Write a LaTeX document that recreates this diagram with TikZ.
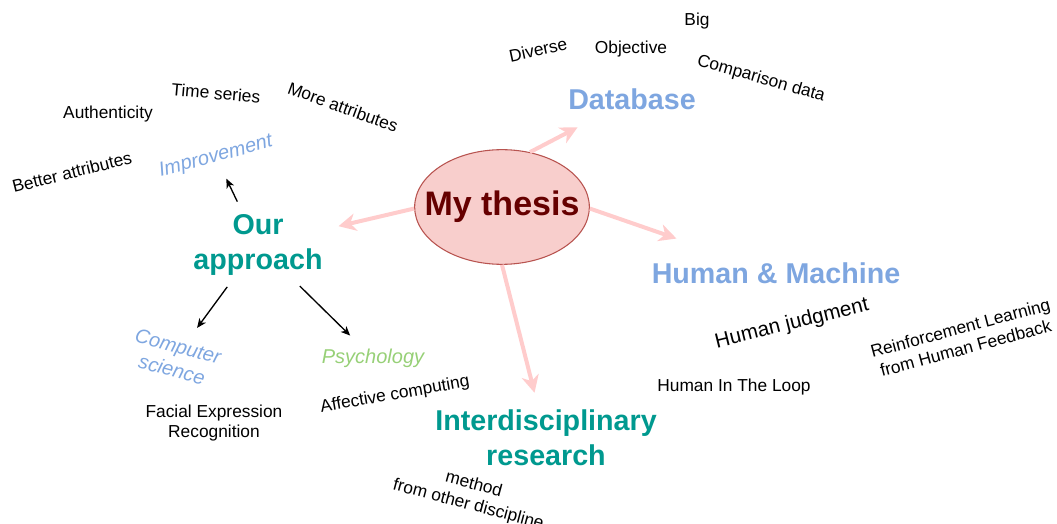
\documentclass[tikz,border=0pt]{standalone}
\usepackage{fontspec}
\setmainfont{Liberation Sans}
\usetikzlibrary{arrows.meta,shapes.geometric}
\definecolor{thesisfill}{RGB}{248,206,204}
\definecolor{thesisline}{RGB}{184,84,80}
\definecolor{thesistext}{RGB}{102,0,0}
\definecolor{linkpink}{RGB}{255,204,204}
\definecolor{topicblue}{RGB}{126,166,224}
\definecolor{topicteal}{RGB}{0,153,143}
\definecolor{topicgreen}{RGB}{151,208,119}

\begin{document}
\begin{tikzpicture}[x=0.75pt,y=-0.75pt,
  leaf/.style={font=\fontsize{13}{15.6}\selectfont,inner sep=0pt,align=center},
  branch/.style={font=\fontsize{21.5}{26}\selectfont\bfseries,inner sep=0pt,align=center},
  topic/.style={font=\fontsize{15}{18}\selectfont\itshape,text=topicblue,inner sep=0pt,align=center},
  pinklink/.style={draw=linkpink,line width=3pt,-{Stealth[length=13pt,width=13pt,inset=4pt]}},
  blacklink/.style={line width=1pt,-{Stealth[length=7pt,width=6pt,inset=2pt]}}]
\useasboundingbox (0,0) rectangle (1057,524);
% centre
\node[ellipse,draw=thesisline,fill=thesisfill,line width=0.8pt,minimum width=131pt,minimum height=86pt,
  inner xsep=-20pt,inner ysep=0pt,font=\fontsize{25.5}{30}\selectfont\bfseries,text=thesistext] (thesis) at (502,207) {My thesis};
% main branches
\node[branch,text=topicblue] (db) at (632,99) {Database};
\node[branch,text=topicblue] (hm) at (776,273) {Human \& Machine};
\node[branch,text=topicteal] (approach) at (258,245) {Our\\approach};
\node[branch,text=topicteal] (inter) at (546,438) {Interdisciplinary\\research};
% approach side
\node[topic,rotate=15] (impr) at (216,157) {Improvement};
\node[topic,rotate=-15] (cs) at (175,358) {Computer\\science};
\node[topic,text=topicgreen] (psy) at (373,358) {Psychology};
\node[leaf,rotate=14] (better) at (72,172) {Better attributes};
\node[leaf] (auth) at (108,114) {Authenticity};
\node[leaf,rotate=-5] (time) at (216,93) {Time series};
\node[leaf,rotate=-20] (more) at (343,107) {More attributes};
\node[leaf] (fer) at (214,423) {Facial Expression\\Recognition};
\node[leaf,rotate=10] (affect) at (395,395) {Affective computing};
% database side
\node[leaf,rotate=12] (diverse) at (538,50) {Diverse};
\node[leaf] (obj) at (631,49) {Objective};
\node[leaf] (big) at (697,21) {Big};
\node[leaf,rotate=-16] (comp) at (761,79) {Comparison data};
% human side
\node[leaf,font=\fontsize{15.5}{18}\selectfont,rotate=14] (judge) at (792,324) {Human judgment};
\node[leaf,rotate=15] (rlhf) at (963,338) {Reinforcement Learning\\from Human Feedback};
\node[leaf] (loop) at (734,387) {Human In The Loop};
\node[leaf,rotate=-15] (method) at (471,495) {method\\from other discipline};
% links
\draw[pinklink,shorten >=46pt] (thesis.63) -- (db.center);
\draw[pinklink,shorten >=62pt] (thesis.181) -- (approach.center);
\draw[pinklink,shorten >=79pt] (thesis.359) -- (hm.center);
\draw[pinklink,shorten >=35pt] (thesis.south) -- (inter.center);
\draw[blacklink,shorten <=36pt,shorten >=18pt] (approach.center) -- (impr.center);
\draw[blacklink,shorten <=39pt,shorten >=28pt] (approach.center) -- (cs.center);
\draw[blacklink,shorten <=44pt,shorten >=24pt] (approach.center) -- (psy.center);
\end{tikzpicture}
\end{document}
